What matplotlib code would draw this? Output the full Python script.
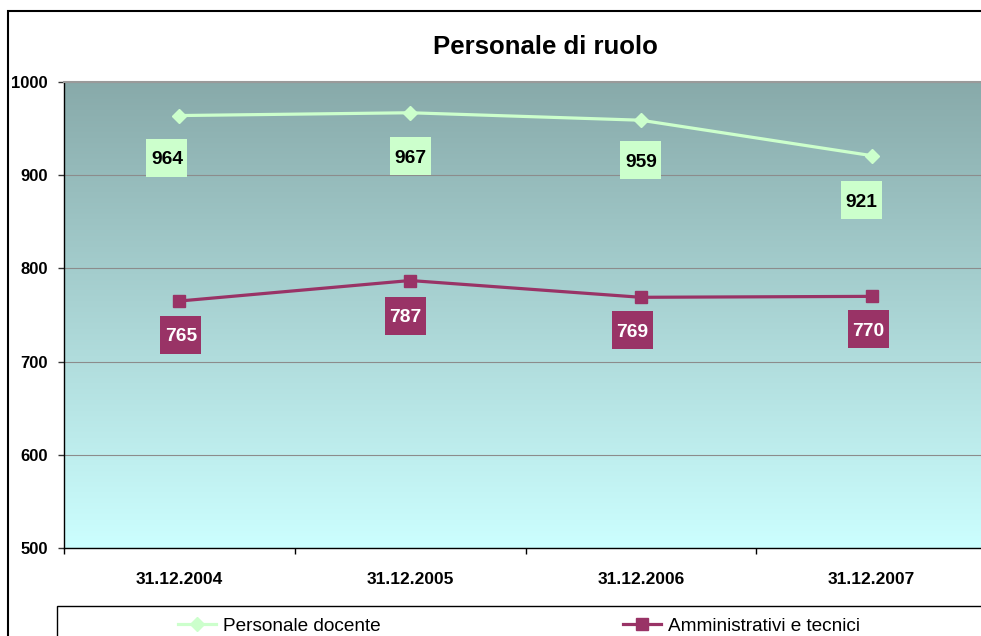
import matplotlib
matplotlib.use('Agg')
import matplotlib.pyplot as plt
import matplotlib.transforms as mtransforms
from matplotlib.patches import Rectangle
from matplotlib.lines import Line2D
import numpy as np

# ---- data ----
categories = ['31.12.2004', '31.12.2005', '31.12.2006', '31.12.2007']
docenti = [964, 967, 959, 921]
amministrativi = [765, 787, 769, 770]
series_names = ['Personale docente', 'Amministrativi e tecnici']
title = 'Personale di ruolo'
yticks = [500, 600, 700, 800, 900, 1000]

# ---- style ----
plt.rcParams['font.family'] = ['Liberation Sans', 'DejaVu Sans']
C_DOC = '#CCFFCC'
C_AMM = '#993366'
TOP = np.array([136, 170, 170]) / 255.0
BOT = np.array([204, 255, 255]) / 255.0

W, H = 981, 636
fig = plt.figure(figsize=(W / 100, H / 100), dpi=100)
fig.patch.set_facecolor('white')

# outer chart frame (extends beyond the picture on right/bottom)
fig.patches.append(Rectangle((8 / W, -0.1), 1.1, (1 - 11 / H) + 0.1,
                             transform=fig.transFigure, fill=False,
                             ec='black', lw=1.5, zorder=0))

ax = fig.add_axes([64 / W, 1 - 548 / H, (987 - 64) / W, (548 - 82) / H])

# gradient background
t = np.linspace(0, 1, 256)[:, None]
grad = (TOP[None, None, :] * (1 - t[:, :, None]) + BOT[None, None, :] * t[:, :, None])
ax.imshow(grad, extent=[0, 1, 0, 1], transform=ax.transAxes, aspect='auto',
          origin='upper', zorder=-2, interpolation='bilinear')

x = np.arange(len(categories)) + 0.5
ax.set_xlim(0, len(categories))
ax.set_ylim(yticks[0], yticks[-1])

ax.set_yticks(yticks)
ax.set_yticklabels([str(v) for v in yticks], fontweight='bold', fontsize=12)
ax.yaxis.grid(True, color='#8c8c8c', lw=0.8)
ax.set_axisbelow(True)
ax.tick_params(axis='y', length=4.5, width=1, pad=7, direction='out', color='#333333')

ax.set_xticks(x)
ax.set_xticklabels(categories, fontweight='bold', fontsize=12.5)
ax.set_xticks(np.arange(len(categories) + 1), minor=True)
ax.tick_params(axis='x', which='major', length=0, pad=17)
ax.tick_params(axis='x', which='minor', length=4, width=1, direction='out', color='black')

for s in ['left', 'bottom']:
    ax.spines[s].set_color('black')
    ax.spines[s].set_linewidth(1)
ax.spines['top'].set_color('#9a9a9a')
ax.spines['top'].set_linewidth(1.5)
ax.spines['right'].set_visible(False)

# lines
ax.plot(x, docenti, color=C_DOC, lw=2.3, marker='D', ms=7.5, zorder=3, clip_on=False)
ax.plot(x, amministrativi, color=C_AMM, lw=2.3, marker='s', ms=9, zorder=3, clip_on=False)

# data labels (offsets in pixels: dx right, dy down)
doc_off = [(-12.5, 42), (0, 43), (0, 40), (-10, 44)]
amm_off = [(1.5, 33.5), (-4.5, 35), (-8.5, 33), (-3, 33)]
BW, BH = 41, 38
FS = 13.8


def add_label(xi, yi, val, off, fc, tc):
    dx, dy = off
    tr = fig.dpi_scale_trans + mtransforms.ScaledTranslation(xi, yi, ax.transData)
    ax.add_patch(Rectangle(((dx - BW / 2) / 100, (-dy - BH / 2) / 100), BW / 100, BH / 100,
                           transform=tr, fc=fc, ec='none', zorder=4, clip_on=False))
    ax.annotate(str(val), (xi, yi), xytext=(dx, -dy - 0.36 * FS / 0.72),
                textcoords='offset pixels', ha='center', va='baseline',
                fontsize=FS, fontweight='bold', color=tc, zorder=5,
                annotation_clip=False)


for xi, v, o in zip(x, docenti, doc_off):
    add_label(xi, v, v, o, C_DOC, 'black')
for xi, v, o in zip(x, amministrativi, amm_off):
    add_label(xi, v, v, o, C_AMM, 'white')

# title
fig.text(545 / W, 1 - 47 / H, title, ha='center', va='center',
         fontsize=18.5, fontweight='bold')

# legend box
fig.patches.append(Rectangle((57 / W, -0.1), 1.1, (1 - 606 / H) + 0.1,
                             transform=fig.transFigure, fill=False,
                             ec='black', lw=1, zorder=0))

h1 = Line2D([], [], color=C_DOC, lw=2.3, marker='D', ms=7.5)
h2 = Line2D([], [], color=C_AMM, lw=2.3, marker='s', ms=9)
common = dict(loc='center left', frameon=False, fontsize=13.7, handlelength=2.0,
              handletextpad=0.35, borderpad=0, borderaxespad=0)
fig.legend(handles=[h1], labels=[series_names[0]],
           bbox_to_anchor=(178 / W, 1 - 626 / H), **common)
fig.legend(handles=[h2], labels=[series_names[1]],
           bbox_to_anchor=(623 / W, 1 - 626 / H), **common)

fig.savefig('out.png', dpi=100)
